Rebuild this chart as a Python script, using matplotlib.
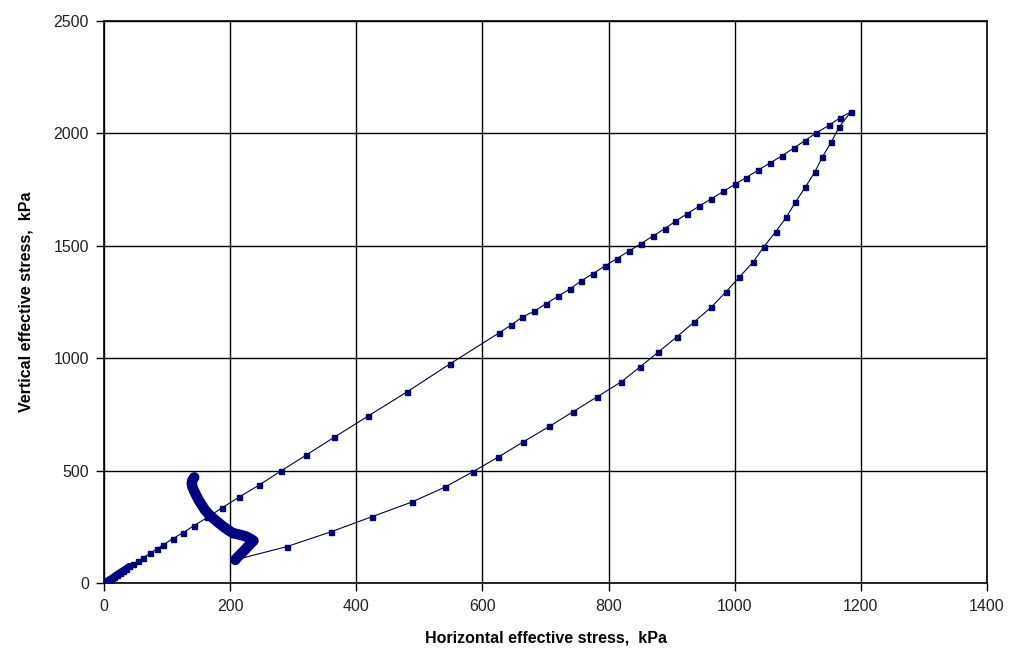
import matplotlib
matplotlib.use("Agg")
import matplotlib.pyplot as plt

plt.rcParams['font.family'] = ['Liberation Sans', 'DejaVu Sans']

# loading path: origin up to the peak
load_h = [0, 2, 5, 8, 12, 16, 20, 25, 30, 35, 40, 46.5, 54.4, 62.3, 72.9, 83.6, 94, 108.9,
          124.8, 142.5, 164, 187, 213.5, 245, 280, 320, 365, 418, 480, 549, 627, 646, 663,
          682, 701, 720, 739, 756, 775, 794, 813, 832, 851, 870, 889, 906, 925, 944, 963,
          982, 1000, 1018, 1037, 1056, 1075, 1094, 1111, 1129, 1149, 1167, 1184]
load_v = [0, 4, 9, 15, 22, 30, 38, 47, 56, 65, 75, 86, 100, 114, 133, 152, 171, 198,
          224, 256, 293, 335, 382, 435, 498, 569, 649, 742, 850, 976, 1114, 1149, 1183,
          1209, 1243, 1276, 1309, 1343, 1376, 1410, 1443, 1476, 1509, 1543, 1576, 1609,
          1643, 1677, 1709, 1742, 1773, 1803, 1836, 1868, 1900, 1935, 1967, 2001, 2035,
          2069, 2095]

# unloading path: peak back down
unload_h = [1166, 1153, 1139, 1127, 1112, 1096, 1082, 1065, 1046, 1029, 1007, 986, 963,
            936, 908, 879, 850, 820, 782, 744, 706, 665, 625, 585, 541, 488, 425, 360,
            290, 208]
unload_v = [2030, 1961, 1895, 1828, 1761, 1693, 1628, 1563, 1495, 1427, 1360, 1295, 1228,
            1162, 1095, 1028, 962, 895, 829, 763, 697, 629, 561, 496, 428, 361, 296, 229,
            163, 104]

# reloading path (densely sampled)
reload_h = [208, 212, 217, 222, 227, 232, 237, 232, 226, 219, 212, 205, 197, 189, 181,
            173, 166, 160, 155, 150, 146, 142, 140, 139, 140, 143]
reload_v = [104, 117, 131, 145, 160, 175, 189, 198, 207, 213, 218, 222, 236, 252, 270,
            289, 307, 326, 348, 370, 392, 415, 430, 444, 458, 471]

fig = plt.figure(figsize=(10.14, 6.65), dpi=100)
ax = fig.add_axes([0.1026, 0.1229, 0.8708, 0.8458])

ax.plot(load_h + unload_h, load_v + unload_v, color='#000040', lw=0.8,
        marker='s', ms=3.6, mfc='#000070', mec='#000070', zorder=3)
ax.plot(reload_h, reload_v, color='#000080', lw=7.5, solid_capstyle='round',
        solid_joinstyle='round', zorder=4)
ax.plot(load_h[:11], load_v[:11], color='#000080', lw=5, solid_capstyle='round', zorder=4)

ax.set_xlim(0, 1400)
ax.set_ylim(0, 2500)
ax.set_xticks(range(0, 1401, 200))
ax.set_yticks(range(0, 2501, 500))
ax.grid(True, color='black', lw=1)
ax.set_axisbelow(True)
for s in ax.spines.values():
    s.set_color('black')
    s.set_linewidth(1.2)
ax.tick_params(direction='out', length=6, width=1, labelsize=11.5, colors='black',
               labelcolor='#222222', pad=5)

ax.set_xlabel('Horizontal effective stress,  kPa', fontsize=11.5, fontweight='bold', labelpad=12)
ax.set_ylabel('Vertical effective stress,  kPa', fontsize=11.5, fontweight='bold', labelpad=14)

fig.savefig('out.png', dpi=100)
